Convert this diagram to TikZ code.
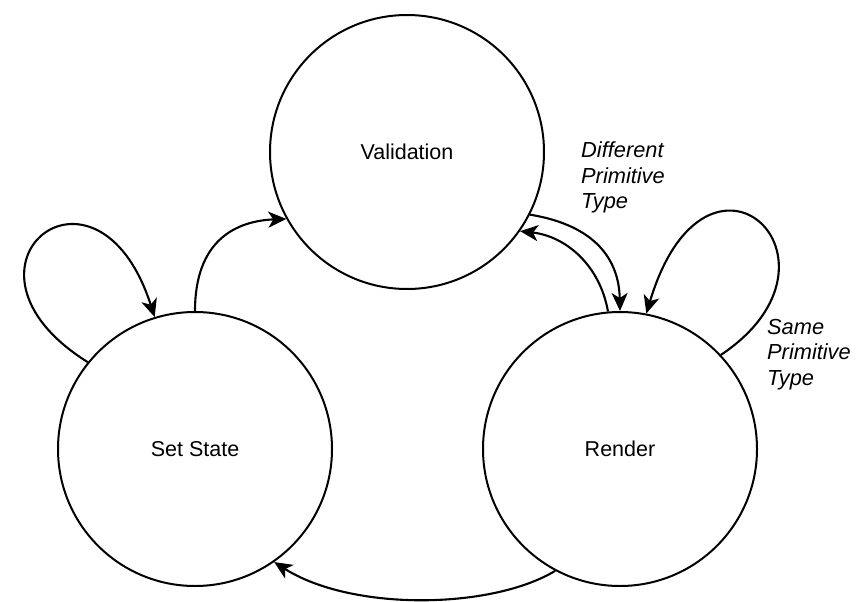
\documentclass[tikz,border=0pt]{standalone}
\usepackage{fontspec}
\setmainfont{Liberation Sans}
\usetikzlibrary{arrows.meta}

\begin{document}
\begin{tikzpicture}[x=1pt,y=-1pt,
  state/.style={draw,circle,line width=2pt,minimum size=274pt,inner sep=0pt,
    font=\fontsize{21.5}{25}\selectfont},
  edge/.style={line width=2.1pt,-{Stealth[length=18pt,width=16pt,inset=5pt]}},
  lbl/.style={anchor=north west,inner sep=0pt,align=left,
    font=\fontsize{21.8}{25.5}\selectfont\itshape}]
  \useasboundingbox (0,0) rectangle (865,602);

  % states
  \node[state] (val)    at (407,152) {Validation};
  \node[state] (set)    at (195,449) {Set State};
  \node[state] (render) at (620,449) {Render};

  % transitions
  \draw[edge] (set.141) .. controls +(-152,-95) and +(-58,-180) .. (set.107);
  \draw[edge] (set.90) .. controls +(0,-71) and +(-50,2) .. (val.209);
  \draw[edge] (val.-27) .. controls +(67,11) and +(-1,-50) .. (render.90);
  \draw[edge] (render.95) .. controls +(-8,-46) and +(46,5) .. (val.-35);
  \draw[edge] (render.43.5) .. controls +(142,-95) and +(60,-200) .. (render.79);
  \draw[edge] (render.242) .. controls +(-65,39) and +(77,49) .. (set.-55);

  % edge labels
  \node[lbl] (diff) at (581,142) {Different\\Primitive\\Type};
  \node[lbl] (same) at (767,319) {Same\\Primitive\\Type};
\end{tikzpicture}
\end{document}
